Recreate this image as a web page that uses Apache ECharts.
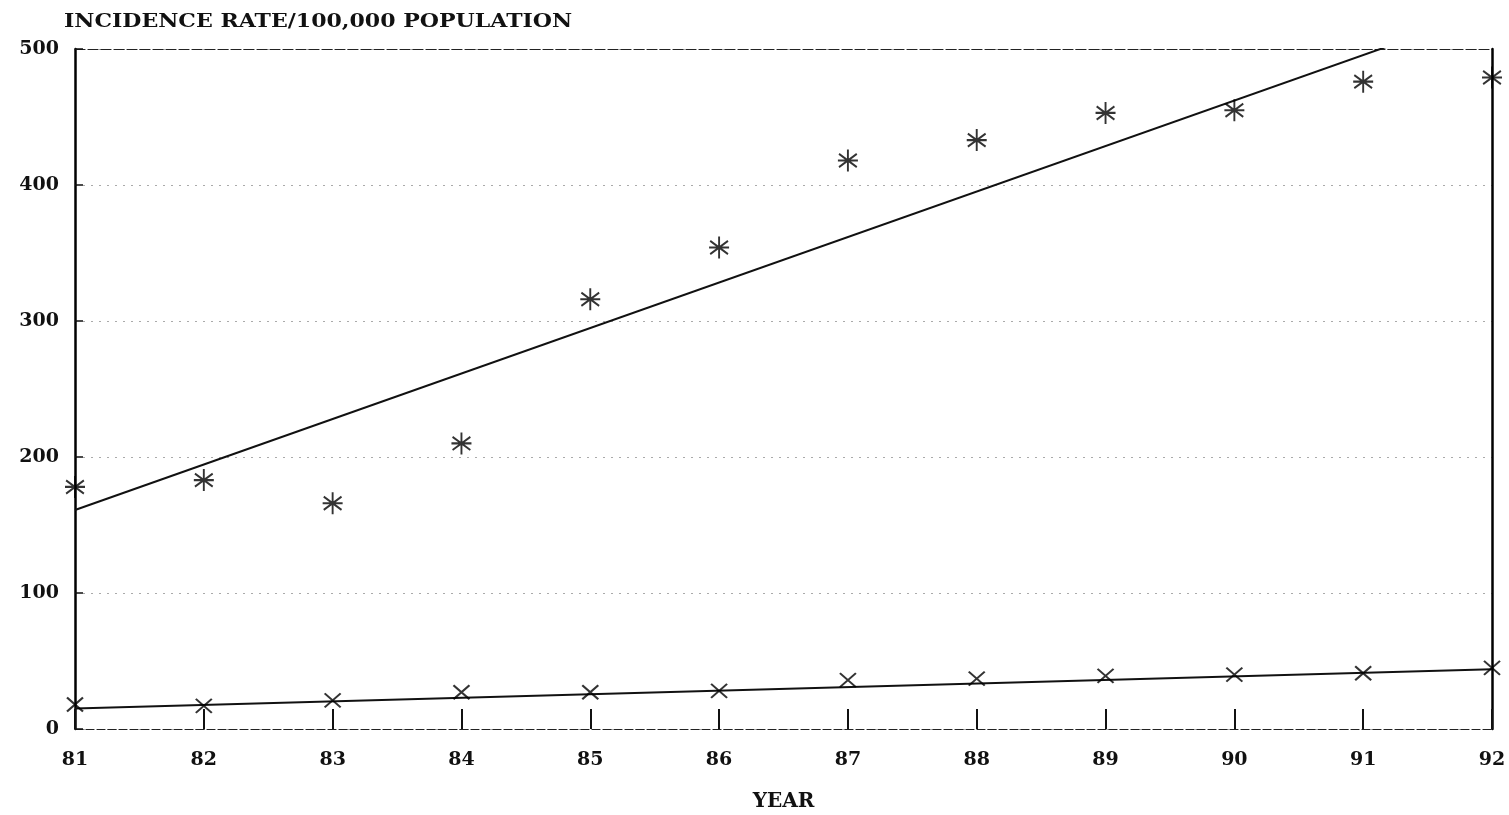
<!DOCTYPE html>
<html>
<head>
<meta charset="utf-8">
<script src="https://cdn.jsdelivr.net/npm/echarts@6/dist/echarts.min.js"></script>
<style>html,body{margin:0;padding:0;background:#fff;}#c{width:1509px;height:815px;}</style>
</head>
<body>
<div id="c"></div>
<script>
var years = [81, 82, 83, 84, 85, 86, 87, 88, 89, 90, 91, 92];
var totalRate = [178, 183, 166, 210, 316, 354, 418, 433, 453, 455, 476, 479];
var lowerRate = [18, 17, 21, 27, 27, 28, 36, 37, 39, 40, 41, 45];
var totalTrend = [[81, 161], [92, 529]];
var lowerTrend = [[81, 15], [92, 44]];
var yTicks = [0, 100, 200, 300, 400, 500];
var titleText = 'INCIDENCE RATE/100,000 POPULATION';
var xName = 'YEAR';

var FONT = '"DejaVu Serif", "Liberation Serif", serif';
var chart = echarts.init(document.getElementById('c'), null, {renderer: 'canvas'});

function pts(vals) { return years.map(function (y, i) { return [y, vals[i]]; }); }

chart.setOption({
  animation: false,
  backgroundColor: '#ffffff',
  graphic: [{
    type: 'text', left: 64, top: 13, scaleX: 1.16, originX: 64,
    style: {text: titleText, font: 'bold 19px ' + FONT, fill: '#111'}
  }],
  grid: {left: 75, right: 17, top: 49, bottom: 86, containLabel: false, outerBoundsMode: 'none'},
  xAxis: [{
    type: 'value', min: 81, max: 92, interval: 1, position: 'bottom',
    name: xName, nameLocation: 'middle', nameGap: 63,
    nameTextStyle: {fontFamily: FONT, fontWeight: 'bold', fontSize: 20, color: '#111'},
    axisLine: {show: true, onZero: false, lineStyle: {color: '#222', width: 1.2, type: [8, 3]}},
    axisTick: {show: true, inside: true, length: 20, lineStyle: {color: '#111', width: 2}},
    axisLabel: {fontFamily: FONT, fontWeight: 'bold', fontSize: 19, color: '#111', margin: 22,
      formatter: function (v) { return String(v); }},
    splitLine: {show: false}
  }, {
    type: 'value', min: 81, max: 92, interval: 1, position: 'top',
    axisLine: {show: true, onZero: false, lineStyle: {color: '#222', width: 1.2, type: [10, 3]}},
    axisTick: {show: false}, axisLabel: {show: false}, splitLine: {show: false}
  }],
  yAxis: [{
    type: 'value', min: 0, max: 500, interval: 100, position: 'left',
    axisLine: {show: true, onZero: false, lineStyle: {color: '#000', width: 2.5}},
    axisTick: {show: true, inside: true, length: 8, lineStyle: {color: '#111', width: 1.5}},
    axisLabel: {fontFamily: FONT, fontWeight: 'bold', fontSize: 19, color: '#111', margin: 16,
      formatter: function (v) { return yTicks.indexOf(v) >= 0 ? String(v) : ''; }},
    splitLine: {show: true, lineStyle: {color: '#aaa', width: 1, type: [2, 6]}}
  }, {
    type: 'value', min: 0, max: 500, interval: 100, position: 'right',
    axisLine: {show: true, onZero: false, lineStyle: {color: '#000', width: 2.5}},
    axisTick: {show: false}, axisLabel: {show: false}, splitLine: {show: false}
  }],
  series: [{
    type: 'line', data: totalTrend, symbol: 'none', clip: true,
    lineStyle: {color: '#111', width: 2}, z: 3
  }, {
    type: 'line', data: lowerTrend, symbol: 'none', clip: true,
    lineStyle: {color: '#111', width: 2}, z: 3
  }, {
    type: 'scatter', data: pts(totalRate), clip: false,
    symbol: 'path://M0,-10L0,10M-8,-6L8,6M-8,6L8,-6M-9,0L9,0',
    symbolSize: [20, 22],
    itemStyle: {color: 'rgba(0,0,0,0)', borderColor: '#000', borderWidth: 2}, z: 4
  }, {
    type: 'scatter', data: pts(lowerRate), clip: false,
    symbol: 'path://M-8,-8L8,8M-8,8L8,-8',
    symbolSize: [16, 14],
    itemStyle: {color: 'rgba(0,0,0,0)', borderColor: '#000', borderWidth: 2}, z: 4
  }]
});
</script>
</body>
</html>
